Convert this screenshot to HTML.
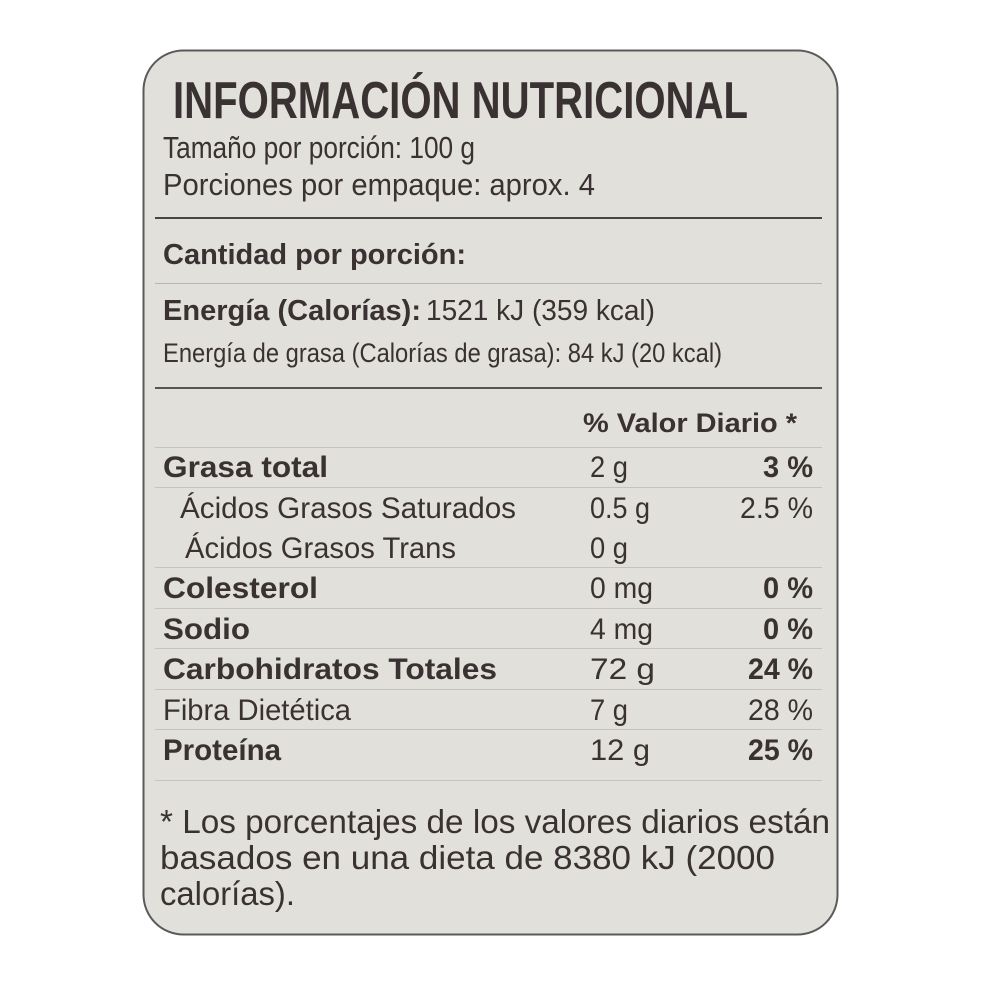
<!DOCTYPE html>
<html><head><meta charset="utf-8"><style>
html,body{margin:0;padding:0;background:#fff;width:1000px;height:1000px;overflow:hidden}
svg{display:block}
text{font-family:"Liberation Sans",sans-serif;fill:#3a3232}
.b{font-weight:bold}
</style></head><body>
<svg width="1000" height="1000" viewBox="0 0 1000 1000" xmlns="http://www.w3.org/2000/svg">
<rect x="143.5" y="50.5" width="694" height="884" rx="40" ry="40" fill="#e2e0db" stroke="#5a5a5a" stroke-width="2"/>
<text class="b" x="173" y="118" font-size="52" textLength="575" lengthAdjust="spacingAndGlyphs">INFORMACIÓN NUTRICIONAL</text>
<text x="163" y="158" font-size="31" textLength="312" lengthAdjust="spacingAndGlyphs">Tamaño por porción: 100 g</text>
<text x="163" y="195" font-size="31" textLength="432" lengthAdjust="spacingAndGlyphs">Porciones por empaque: aprox. 4</text>
<rect x="155" y="217" width="667" height="2" fill="#4a4545"/>
<text class="b" x="163" y="264" font-size="29" textLength="303" lengthAdjust="spacingAndGlyphs">Cantidad por porción:</text>
<rect x="155" y="283" width="667" height="1" fill="#b8b5b0"/>
<text class="b" x="163" y="320" font-size="29" textLength="258" lengthAdjust="spacingAndGlyphs">Energía (Calorías):</text>
<text x="426" y="320" font-size="29" textLength="229" lengthAdjust="spacingAndGlyphs">1521 kJ (359 kcal)</text>
<text x="163" y="362" font-size="27" textLength="559" lengthAdjust="spacingAndGlyphs">Energía de grasa (Calorías de grasa): 84 kJ (20 kcal)</text>
<rect x="155" y="387" width="667" height="2" fill="#5a5555"/>
<text class="b" x="583" y="432" font-size="27" textLength="214" lengthAdjust="spacingAndGlyphs">% Valor  Diario *</text>
<g fill="#c6c3be">
<rect x="155" y="447" width="667" height="1"/>
<rect x="155" y="487" width="667" height="1"/>
<rect x="155" y="567" width="667" height="1"/>
<rect x="155" y="608" width="667" height="1"/>
<rect x="155" y="648" width="667" height="1"/>
<rect x="155" y="689" width="667" height="1"/>
<rect x="155" y="729" width="667" height="1"/>
<rect x="155" y="780" width="667" height="1"/>
</g>
<text class="b" x="163" y="477" font-size="30" textLength="165" lengthAdjust="spacingAndGlyphs">Grasa total</text>
<text x="180" y="518" font-size="30" textLength="336" lengthAdjust="spacingAndGlyphs">Ácidos Grasos Saturados</text>
<text x="185" y="558" font-size="30" textLength="271" lengthAdjust="spacingAndGlyphs">Ácidos Grasos Trans</text>
<text class="b" x="163" y="598" font-size="30" textLength="155" lengthAdjust="spacingAndGlyphs">Colesterol</text>
<text class="b" x="163" y="639" font-size="30" textLength="87" lengthAdjust="spacingAndGlyphs">Sodio</text>
<text class="b" x="163" y="679" font-size="30" textLength="334" lengthAdjust="spacingAndGlyphs">Carbohidratos Totales</text>
<text x="163" y="720" font-size="30" textLength="188" lengthAdjust="spacingAndGlyphs">Fibra Dietética</text>
<text class="b" x="163" y="760" font-size="30" textLength="118" lengthAdjust="spacingAndGlyphs">Proteína</text>
<g font-size="30">
<text x="590" y="477" textLength="38" lengthAdjust="spacingAndGlyphs">2 g</text>
<text x="590" y="518" textLength="60" lengthAdjust="spacingAndGlyphs">0.5 g</text>
<text x="590" y="558" textLength="38" lengthAdjust="spacingAndGlyphs">0 g</text>
<text x="590" y="598" textLength="63" lengthAdjust="spacingAndGlyphs">0 mg</text>
<text x="590" y="639" textLength="63" lengthAdjust="spacingAndGlyphs">4 mg</text>
<text x="590" y="679" textLength="65" lengthAdjust="spacingAndGlyphs">72 g</text>
<text x="590" y="720" textLength="38" lengthAdjust="spacingAndGlyphs">7 g</text>
<text x="590" y="760" textLength="60" lengthAdjust="spacingAndGlyphs">12 g</text>
</g>
<g font-size="30">
<text class="b" x="763" y="477" textLength="50" lengthAdjust="spacingAndGlyphs">3 %</text>
<text x="740" y="518" textLength="73" lengthAdjust="spacingAndGlyphs">2.5 %</text>
<text class="b" x="763" y="598" textLength="50" lengthAdjust="spacingAndGlyphs">0 %</text>
<text class="b" x="763" y="639" textLength="50" lengthAdjust="spacingAndGlyphs">0 %</text>
<text class="b" x="748" y="679" textLength="65" lengthAdjust="spacingAndGlyphs">24 %</text>
<text x="748" y="720" textLength="65" lengthAdjust="spacingAndGlyphs">28 %</text>
<text class="b" x="748" y="760" textLength="65" lengthAdjust="spacingAndGlyphs">25 %</text>
</g>
<text x="160" y="833" font-size="33" textLength="670" lengthAdjust="spacingAndGlyphs">* Los porcentajes de los valores diarios están</text>
<text x="160" y="869" font-size="33" textLength="615" lengthAdjust="spacingAndGlyphs">basados en una dieta de 8380 kJ (2000</text>
<text x="160" y="905" font-size="33" textLength="135" lengthAdjust="spacingAndGlyphs">calorías).</text>
</svg>
</body></html>
